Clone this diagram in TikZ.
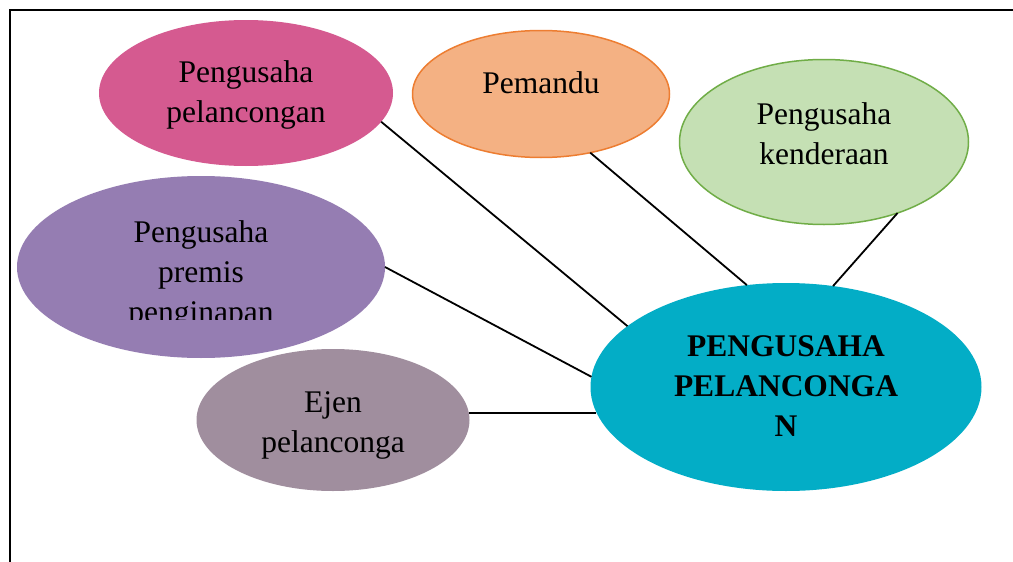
\documentclass[tikz,border=0pt]{standalone}
\usepackage{fontspec}
\setmainfont{Liberation Serif}
\usetikzlibrary{shapes.geometric}
\definecolor{cMag}{HTML}{D55A90}
\definecolor{cOrF}{HTML}{F4B183}
\definecolor{cOrB}{HTML}{ED7D31}
\definecolor{cGrF}{HTML}{C5E0B4}
\definecolor{cGrB}{HTML}{70AD47}
\definecolor{cPur}{HTML}{957DB2}
\definecolor{cMau}{HTML}{A08E9E}
\definecolor{cTeal}{HTML}{03ADC6}
\begin{document}
\begin{tikzpicture}[x=1pt,y=-1pt,
  bub/.style={ellipse, inner sep=0pt, outer sep=0pt},
  lbl/.style={inner sep=0pt, align=center, font=\fontsize{31.5}{40}\selectfont},
  link/.style={draw=black, line width=1.8pt}]
\useasboundingbox (0,0) rectangle (1013,562);
\fill[white] (0,0) rectangle (1013,562);
\draw[line width=2.2pt] (10,562) -- (10,10) -- (1013,10);
% bubbles
\node[bub, fill=cMag, minimum width=294pt, minimum height=146pt] (pel) at (246,93) {};
\node[bub, fill=cOrF, draw=cOrB, line width=1.5pt, minimum width=257pt, minimum height=127pt] (pem) at (541,94) {};
\node[bub, fill=cGrF, draw=cGrB, line width=1.5pt, minimum width=289pt, minimum height=165pt] (ken) at (824,142) {};
\node[bub, fill=cPur, minimum width=368pt, minimum height=182pt] (pre) at (201,267) {};
\node[bub, fill=cMau, minimum width=273pt, minimum height=142pt] (eje) at (333,420) {};
\node[bub, fill=cTeal, minimum width=391pt, minimum height=208pt] (pus) at (786,387) {};
% labels
\node[lbl] (tpel) at (246,95) {Pengusaha\\pelancongan};
\node[lbl] (tpem) at (541,83) {Pemandu};
\node[lbl] (tken) at (824,134) {Pengusaha\\kenderaan};
\begin{scope}
\clip (17,170) rectangle (385,319);
\node[lbl] (tpre) at (201,275) {Pengusaha\\premis\\penginapan};
\end{scope}
\node[lbl] (teje) at (333,425) {Ejen\\pelanconga};
\node[lbl, font=\fontsize{31.5}{40}\selectfont\bfseries] (tpus) at (786,386) {PENGUSAHA\\PELANCONGA\\N};
% connectors
\draw[link] (pel.-12.2) -- (pus.159.1);
\draw[link] (pem.-50.2) -- (pus.111.6);
\draw[link] (ken.-44.6) -- (pus.65.3);
\draw[link] (pre.-0.5) -- (pus.177.3);
\draw[link] (eje.3.8) -- (eje.3.8 -| pus.187);
\end{tikzpicture}
\end{document}
